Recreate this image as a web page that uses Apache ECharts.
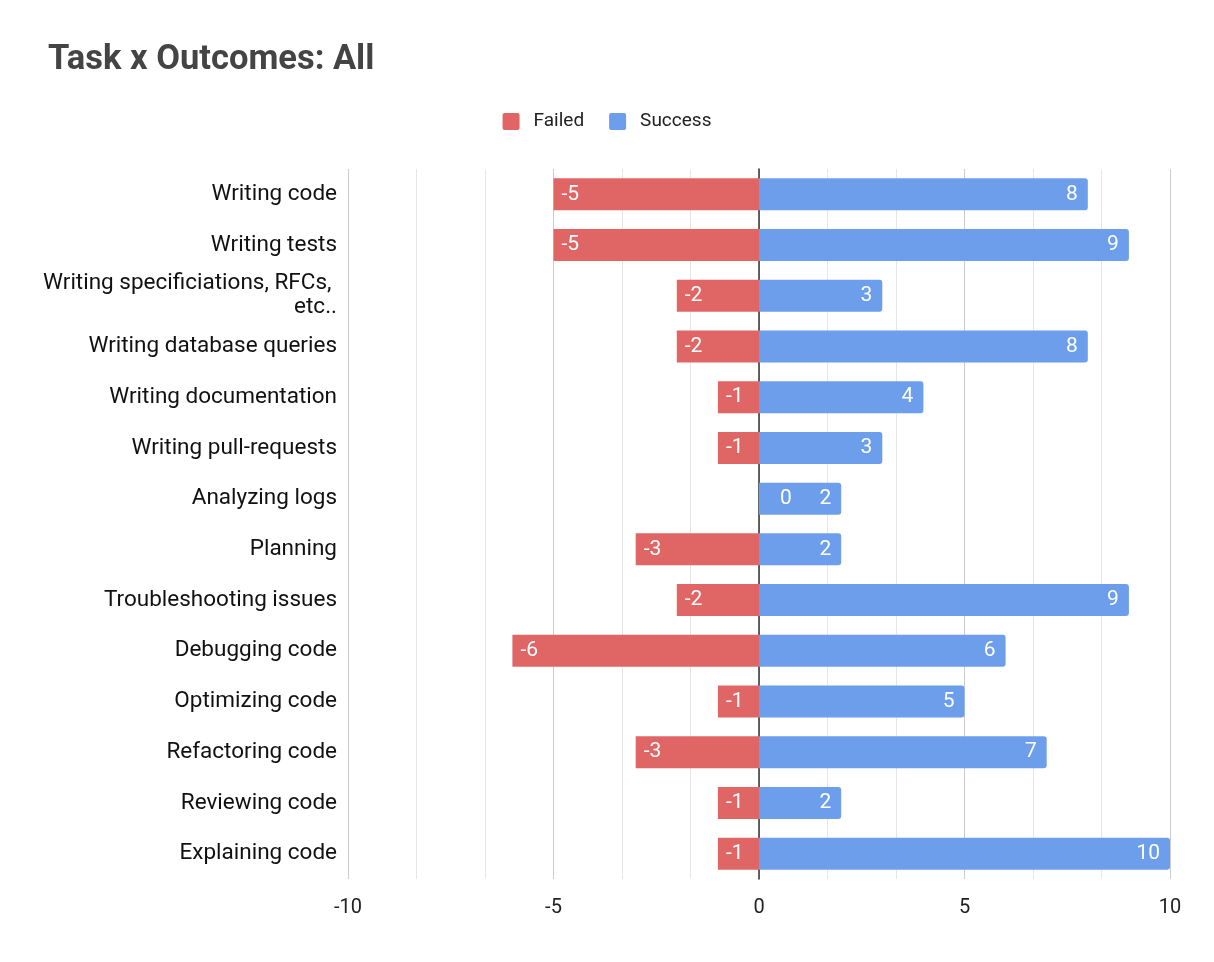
<!DOCTYPE html>
<html>
<head>
<meta charset="utf-8">
<script src="https://cdn.jsdelivr.net/npm/echarts@6/dist/echarts.min.js"></script>
<style>html,body{margin:0;padding:0;background:#fff}#c{width:1214px;height:962px}</style>
</head>
<body>
<div id="c"></div>
<script>
const categories = ["Writing code","Writing tests","Writing specificiations, RFCs, etc..","Writing database queries","Writing documentation","Writing pull-requests","Analyzing logs","Planning","Troubleshooting issues","Debugging code","Optimizing code","Refactoring code","Reviewing code","Explaining code"];
const failed = [-5,-5,-2,-2,-1,-1,0,-3,-2,-6,-1,-3,-1,-1];
const success = [8,9,3,8,4,3,2,2,9,6,5,7,2,10];
const xTicks = {min:-10, max:10, interval:5};

const chart = echarts.init(document.getElementById('c'));
const font = 'Roboto, Arial, sans-serif';
const legendIcon = 'path://M2,0 H15 Q17,0 17,2 V15 Q17,17 15,17 H2 Q0,17 0,15 V2 Q0,0 2,0 Z';
chart.setOption({
  animation:false,
  title:{text:'Task x Outcomes: All', left:43, top:38, textStyle:{fontFamily:font, fontSize:34.5, fontWeight:'bold', color:'#444'}},
  legend:{top:107, left:'center', itemWidth:17, itemHeight:17, itemGap:25, icon:legendIcon,
    textStyle:{fontFamily:font, fontSize:19, color:'#222', padding:[0,0,0,9]}, data:['Failed','Success']},
  grid:{left:348, right:44, top:169, bottom:83, containLabel:false},
  xAxis:{type:'value', min:xTicks.min, max:xTicks.max, interval:xTicks.interval,
    axisLine:{show:false}, axisTick:{show:false},
    axisLabel:{fontFamily:font, fontSize:20, color:'#222', margin:19},
    splitLine:{lineStyle:{color:'#cccccc', width:1}},
    minorTick:{show:false, splitNumber:3},
    minorSplitLine:{show:true, lineStyle:{color:'#e6e6e6', width:1}}},
  yAxis:{type:'category', data:categories, inverse:true,
    axisLine:{show:true, onZero:true, lineStyle:{color:'#333', width:1.5}},
    axisTick:{show:false},
    axisLabel:{fontFamily:font, fontSize:22.5, color:'#111', margin:11, width:300, overflow:'break', lineHeight:24}},
  series:[
    {name:'Failed', type:'bar', stack:'t', barWidth:32, itemStyle:{color:'#e06666'},
     label:{show:true, position:'insideLeft', distance:8, color:'#fff', fontFamily:font, fontSize:21},
     data: failed.map(v => v === 0 ? {value:v, label:{position:'right', distance:21}} : v)},
    {name:'Success', type:'bar', stack:'t', barWidth:32, itemStyle:{color:'#6d9eeb', borderRadius:[0,3,3,0]},
     label:{show:true, position:'insideRight', distance:10, color:'#fff', fontFamily:font, fontSize:21},
     data: success}
  ]
});
</script>
</body>
</html>
